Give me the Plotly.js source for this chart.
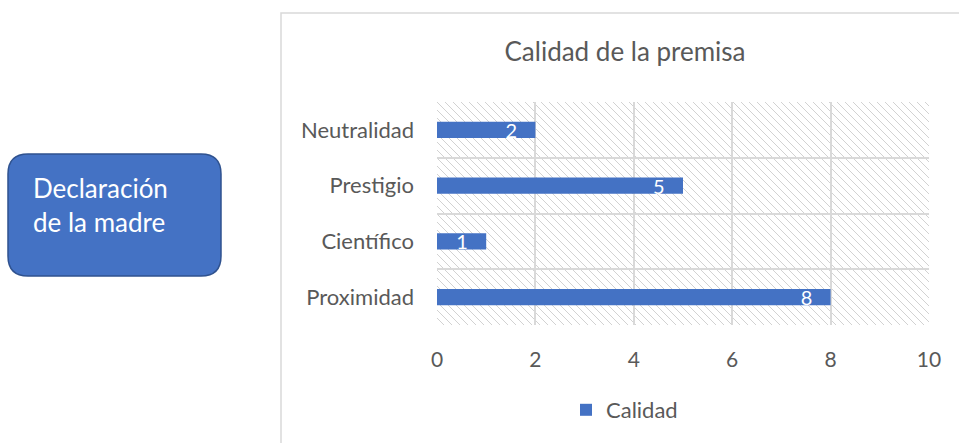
<!DOCTYPE html>
<html><head><meta charset="utf-8">
<script src="https://cdn.plot.ly/plotly-3.0.1.min.js"></script>
<style>html,body{margin:0;padding:0;background:#fff;}#chart{width:959px;height:443px;}</style>
</head><body><div id="chart"></div>
<script>
const categories = ["Proximidad", "Científico", "Prestigio", "Neutralidad"];
const values = [8, 1, 5, 2];
const seriesName = "Calidad";
const xTicks = [0, 2, 4, 6, 8, 10];
const chartTitle = "Calidad de la premisa";
const boxText = "Declaración<br>de la madre";

const W = 959, H = 443;
const px = v => v / W, py = v => 1 - v / H;

const hatch = 'data:image/svg+xml;utf8,' + encodeURIComponent(
 '<svg xmlns="http://www.w3.org/2000/svg" width="492" height="223" viewBox="0 0 492 223">' +
 '<defs><pattern id="p" width="8" height="8" patternUnits="userSpaceOnUse">' +
 '<path d="M-2,-2 L10,10 M-2,6 L2,10 M6,-2 L10,2" stroke="#d2d2d2" stroke-width="1"/></pattern></defs>' +
 '<rect width="492" height="223" fill="url(#p)"/></svg>');

function roundRect(x0, y0, x1, y1, r) {
  const X = v => px(v), Y = v => py(v);
  return `M${X(x0+r)},${Y(y0)} L${X(x1-r)},${Y(y0)} Q${X(x1)},${Y(y0)} ${X(x1)},${Y(y0+r)} ` +
    `L${X(x1)},${Y(y1-r)} Q${X(x1)},${Y(y1)} ${X(x1-r)},${Y(y1)} L${X(x0+r)},${Y(y1)} ` +
    `Q${X(x0)},${Y(y1)} ${X(x0)},${Y(y1-r)} L${X(x0)},${Y(y0+r)} Q${X(x0)},${Y(y0)} ${X(x0+r)},${Y(y0)} Z`;
}

const font = "Lato, 'Open Sans', sans-serif";
const trace = {
  type: 'bar', orientation: 'h', y: categories, x: values, name: seriesName,
  width: 0.29, marker: {color: '#4472c4'},
  text: values.map(v => String(v) + '\u00a0\u00a0\u00a0'), textposition: 'inside', insidetextanchor: 'end', textangle: 0,
  constraintext: 'none',
  textfont: {color: '#ffffff', size: 20, family: font}, cliponaxis: false,
  hoverinfo: 'x+y'
};

const layout = {
  width: W, height: H, margin: {l:0, r:0, t:0, b:0},
  paper_bgcolor: '#ffffff', plot_bgcolor: 'rgba(0,0,0,0)',
  font: {family: font, color: '#595959', size: 22},
  title: {text: chartTitle, x: 625/W, xanchor: 'center', xref: 'paper', y: py(52), yanchor: 'middle', yref: 'paper',
          font: {size: 26, color: '#595959', family: font}},
  xaxis: {domain: [px(437), px(929)], range: [0, 10], tickvals: xTicks, showgrid: true, gridcolor: '#d9d9d9', gridwidth: 2,
          zeroline: false, showline: false, ticks: '', ticklabelstandoff: 20, tickfont: {size: 21, color: '#595959'}},
  yaxis: {domain: [py(325), py(102)], type: 'category', tickson: 'boundaries', showgrid: true, gridcolor: '#d9d9d9', gridwidth: 2,
          ticks: '', showline: false, zeroline: false, ticklabelstandoff: 22, tickfont: {size: 22, color: '#595959'},
          range: [-0.5, 3.5]},
  showlegend: true,
  legend: {orientation: 'h', x: 566/W, xanchor: 'left', y: py(410), yanchor: 'middle', font: {size: 22, color: '#595959'},
           itemwidth: 30},
  images: [{source: hatch, xref: 'x domain', yref: 'y domain', x: 0, y: 1, sizex: 1, sizey: 1,
            sizing: 'stretch', layer: 'below', xanchor: 'left', yanchor: 'top'}],
  shapes: [
    {type: 'rect', xref: 'paper', yref: 'paper', x0: px(281), x1: 1.05, y0: -0.1, y1: py(13),
     line: {color: '#d9d9d9', width: 1.5}, fillcolor: 'rgba(0,0,0,0)', layer: 'below'},
    {type: 'path', xref: 'paper', yref: 'paper', path: roundRect(8, 154, 221, 276, 20),
     fillcolor: '#4472c4', line: {color: '#2f528f', width: 1.5}}
  ],
  annotations: [
    {text: boxText, xref: 'paper', yref: 'paper', x: px(31), y: py(205), xanchor: 'left', yanchor: 'middle',
     align: 'left', showarrow: false, font: {size: 26, color: '#ffffff', family: font}}
  ]
};
Plotly.newPlot('chart', [trace], layout, {displayModeBar: false, staticPlot: true});
</script></body></html>
